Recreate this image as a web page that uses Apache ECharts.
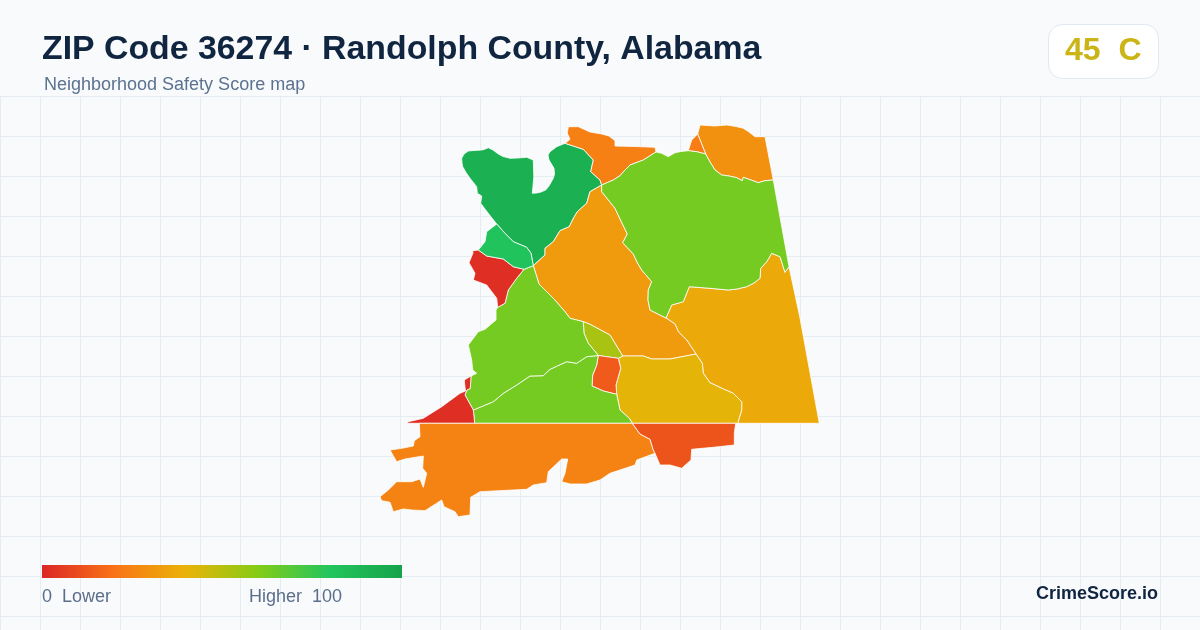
<!DOCTYPE html>
<html><head><meta charset="utf-8">
<style>html,body{margin:0;padding:0;background:#f8fafc}#c{width:1200px;height:630px}</style>
<script src="https://cdn.jsdelivr.net/npm/echarts@6/dist/echarts.min.js"></script>
</head><body><div id="c"></div>
<script>
// ---- chart text ----
const titleText = 'ZIP Code 36274 · Randolph County, Alabama';
const subtitleText = 'Neighborhood Safety Score map';
const badgeText = '45  C';
const brandText = 'CrimeScore.io';
const scaleLow = '0  Lower';
const scaleHigh = 'Higher  100';
const scaleColors = ['#dc2626', '#f97316', '#eab308', '#84cc16', '#22c55e', '#16a34a'];

// ---- scores of the map areas ----
const regionNames = ['North Hill','North Ridge','North East','North East Spur','East Lake','Central Lake','Mid Lake','Lake Creek','Bridge','Town Centre','South Lime','West Lime','West Point','North West','Creek','South Shore','South East'];
const regionScores = [92, 24, 29, 23, 37, 32.5, 41, 53, 13.5, 63, 63, 63, 2, 2, 81, 25, 12];

// ---- shared area borders, in map units ----
const darkOuter = [[565,143.3],[556.7,146.7],[550,151.7],[548,155],[549,160],[554,168.3],[554.5,174],[553.3,178.3],[549,186],[545.7,190],[541,192],[536.7,193],[532.3,193.3],[533,186],[533.8,176.7],[533.5,168],[533.3,160],[526.7,157.3],[518,158],[510,158.3],[503,156.5],[498.3,154],[493,150],[488.3,147.7],[484,149.5],[481.7,150],[474,150.5],[468.3,151],[464,154],[461.7,158.3],[462,163],[462.7,166.7],[466,172.5],[470,178.3],[476.7,186.7],[477.3,193.3],[481.7,196],[480.7,203.3],[488,213],[496.7,224]];
const darkLight = [[496.7,224],[505,233.3],[513.3,241.7],[520,244.5],[526.7,247.3],[531,253.3],[533.3,265.7]];
const darkCenter = [[533.3,265.7],[545,255],[545,248.3],[553.3,241.7],[560,230.7],[569.3,226.7],[573,219],[577.3,211.7],[586.7,203.3],[590,191.7],[601.7,185]];
const darkNorth = [[601.7,185],[600,180],[590.7,171.7],[593.3,160],[583.3,149.3],[565,143.3]];
const northOuter = [[565,143.3],[570,139.3],[567.3,133.3],[568.3,126.7],[578.3,126.7],[590,132],[601.7,134],[609,136],[615,140.7],[615,146],[635,146.5],[655,147.3],[656,152]];
const limeNorth = [[601.7,185],[613.3,180],[620,175.7],[625,170],[630,165],[643.3,160],[656,152]];
const limeTop = [[656,152],[661.7,153.3],[668.3,156.7],[675,152.7],[681,151.5],[688.3,150.7]];
const limeSpur = [[688.3,150.7],[696.7,151.7],[705.7,154]];
const limeNorthEast = [[705.7,154],[710,162],[715,170],[721.7,175],[729,176],[736.7,177.7],[742.3,180.7],[743.3,177.3],[751,180],[758.3,182.7],[765,180.7],[773.3,180]];
const limeEdge = [[773.3,180],[789,266.7]];
const limeEast = [[789,266.7],[785,272.3],[780,256.7],[771.7,253.3],[766.7,261.7],[760.7,268.3],[760,278.3],[754,283],[746.7,286.7],[737,289],[728.3,290],[710,288.3],[689.3,286.7],[683.3,301.7],[671.7,305],[666,318]];
const limeCenter = [[666,318],[650,310],[648,300],[648.3,290],[651.7,281.7],[641.7,270],[637,262],[633.3,254],[622.7,242.7],[627.3,234],[621,221],[615,208.3],[601.7,191.7],[601.7,185]];
const spurOuter = [[688.3,150.7],[691.7,140],[697.7,134]];
const spurDivide = [[697.7,134],[705.7,154]];
const northEastOuter = [[697.7,134],[700,125],[715,126],[726.7,125],[736,126.5],[743.3,128.3],[749,132],[755,136.7],[765,136.7],[773.3,180]];
const eastOuter = [[789,266.7],[800,318],[819.3,423.3],[737.7,423.3]];
const eastSouth = [[737.7,423.3],[741.7,410],[741.7,401.7],[733.3,393.3],[723.3,389],[710,382.7],[703.3,373.3],[702.3,363.3],[696,354]];
const eastCenter = [[666,318],[675,324],[678.3,331.7],[686.7,340],[696,354]];
const centerSouth = [[696,354],[670,359],[651.7,359],[643.3,356],[622.7,356]];
const oliveCenter = [[583.3,321.7],[590,324.3],[610,335],[615,343.3],[622.7,356]];
const oliveTop = [[622.7,356],[618.3,358.3],[598.3,355.5]];
const oliveLime = [[583.3,321.7],[584,333.3],[588.3,343.3],[598.3,355.5]];
const limeCenterWest = [[533.3,265.7],[535.7,273.3],[539,284],[553.3,298.3],[565,311.7],[570,318.3],[583.3,321.7]];
const squareLeft = [[598.3,355.5],[596.7,365],[592.7,375],[592,386],[603.3,391],[616.7,394.3]];
const squareRight = [[618.3,358.3],[620.7,368.3],[616,385],[616.7,394.3]];
const southLimeRight = [[616.7,394.3],[620,410],[629.3,418.3],[632.3,423.3]];
const limeDivide = [[598.3,355.5],[586.7,356.7],[576.7,363.3],[566.7,361.7],[550,369.3],[543.3,375.7],[530,376],[516.7,385],[503.3,393.3],[493.3,401.7],[473.3,410]];
const redLime = [[465,395],[473.3,410]];
const knobSide = [[465,395],[466.7,390.3],[470.3,388.3],[471,376]];
const limeWestOuter = [[471,376],[476.7,373.3],[472.7,370],[471.7,360],[468.3,345],[478.3,331.7],[485,329.3],[496,320],[496,310],[497.7,307.3]];
const redLimeNorth = [[524,269.3],[516.7,278.3],[508.3,290],[505,303.3],[497.7,307.3]];
const redLight = [[524,269.3],[513.3,266.7],[503.3,259],[486.7,256],[478.3,250]];
const lightOuter = [[478.3,250],[485,241.7],[486.7,231.7],[496.7,224]];
const redNorthOuter = [[478.3,250],[472.7,250.7],[473,253],[469,262.7],[475,273.3],[473.3,280],[486.7,285],[496.7,298.3],[497.7,307.3]];
const knobWest = [[471,376],[464.3,380],[465,387.3],[465.5,391],[460,393.3],[441.7,406.7],[423.3,418.3],[408.3,421.7],[407.3,423.3],[474.7,423.3],[473.3,410]];
const southOuter = [[419.3,423.3],[420,436.7],[414.3,440.7],[413.3,446],[401.7,448.3],[390,450],[396.7,461.7],[405,459],[423.3,456],[422.7,468.3],[426.7,473.3],[423.3,487.3],[420,479],[411.7,481.7],[396.7,481.7],[388.3,490],[380,496.7],[381.7,500.7],[390,502.3],[393.3,511.7],[403.3,509],[411.7,510],[425,510.7],[441.7,500],[444,506.7],[455,511.7],[458.3,516.7],[470,515],[470.7,497.3],[480,491.7],[526.7,489.3],[533.3,485],[546.7,482.7],[548.3,471.7],[561.7,459],[567.7,459],[565,473.3],[561.7,481.7],[570,484],[586.7,484],[600,480],[610,473.3],[635,465],[636.7,460],[655,453.3]];
const southDivide = [[632.3,423.3],[640,434],[650,439.3],[653.3,450],[655,453.3]];
const southEastOuter = [[655,453.3],[660,465],[670,465],[681.7,468.3],[691,460],[691.7,449.3],[713.3,447.3],[734.3,445],[734.3,433.3],[735.7,423.3],[632.3,423.3]];

const back = a => a.slice().reverse();
const ring = (...arcs) => { const r = [].concat(...arcs); r.push(r[0]); return r; };
const regionRings = [
  ring(darkOuter, darkLight, darkCenter, darkNorth),
  ring(northOuter, back(limeNorth), darkNorth),
  ring(northEastOuter, back(limeNorthEast), back(spurDivide)),
  ring(spurOuter, spurDivide, back(limeSpur)),
  ring(eastOuter, eastSouth, back(eastCenter), back(limeEast)),
  ring(back(limeCenter), eastCenter, centerSouth, back(oliveCenter), back(limeCenterWest), darkCenter),
  ring(oliveTop.slice(0, 2), squareRight, southLimeRight, [[737.7,423.3]], eastSouth, centerSouth),
  ring(oliveCenter, oliveTop, back(oliveLime)),
  ring(oliveTop.slice(1), squareLeft, back(squareRight)),
  ring(limeNorth, limeTop, limeSpur, limeNorthEast, limeEdge, limeEast, limeCenter),
  ring(limeDivide, [[474.7,423.3]], [[632.3,423.3]], back(southLimeRight), back(squareLeft)),
  ring(limeCenterWest, oliveLime, limeDivide, back(redLime), knobSide, limeWestOuter, back(redLimeNorth)),
  ring(knobSide, knobWest, back(redLime)),
  ring(redLight, redNorthOuter, back(redLimeNorth)),
  ring(darkLight, [[524,269.3]], redLight, lightOuter),
  ring(southOuter, back(southDivide)),
  ring(southDivide, southEastOuter)
];

const geoJson = {
  type: 'FeatureCollection',
  features: regionNames.map((name, i) => ({
    type: 'Feature',
    properties: { name },
    geometry: { type: 'Polygon', coordinates: [regionRings[i]] }
  }))
};
echarts.registerMap('zip36274', geoJson);

const chart = echarts.init(document.getElementById('c'));
const FONT = '"Liberation Sans", Arial, sans-serif';
const scaleGradient = new echarts.graphic.LinearGradient(0, 0, 1, 0,
  scaleColors.map((color, i) => ({ offset: i / (scaleColors.length - 1), color })));
chart.setOption({
  backgroundColor: '#f8fafc',
  animation: false,
  textStyle: { fontFamily: FONT },
  title: {
    left: 42, top: 33, padding: 0,
    text: titleText,
    textStyle: { fontFamily: FONT, fontSize: 33.85, fontWeight: 700, color: '#102540' }
  },
  grid: { left: 0, top: 96, width: 1200, height: 534, show: false },
  xAxis: { type: 'value', min: 0, max: 1200, interval: 40, show: true,
    axisLine: { show: false }, axisTick: { show: false }, axisLabel: { show: false },
    splitLine: { show: true, lineStyle: { color: '#e6edf2', width: 1 } } },
  yAxis: { type: 'value', inverse: true, min: 0, max: 534, interval: 40, show: true,
    axisLine: { show: false }, axisTick: { show: false }, axisLabel: { show: false },
    splitLine: { show: true, lineStyle: { color: '#e6edf2', width: 1 } } },
  visualMap: {
    type: 'continuous', min: 0, max: 100, show: false,
    inRange: { color: scaleColors }
  },
  series: [{
    type: 'map', map: 'zip36274', silent: true, z: 5,
    projection: { project: p => p, unproject: p => p },
    boundingCoords: [[0, 0], [1200, 630]],
    left: 0, top: 0, width: 1200, height: 630, roam: false,
    label: { show: false },
    itemStyle: { borderColor: '#ffffff', borderWidth: 0.8 },
    data: regionNames.map((name, i) => ({ name, value: regionScores[i] }))
  }],
  graphic: [
    { type: 'text', left: 44, top: 76, z: 10, style: { text: subtitleText, font: '18px ' + FONT, fill: '#5b7290' } },
    { type: 'rect', left: 1048, top: 24, z: 10, shape: { width: 110, height: 54, r: 14 }, style: { fill: '#ffffff', stroke: '#e2e8f0', lineWidth: 1 } },
    { type: 'text', left: 1065, top: 35, z: 11, style: { text: badgeText, font: '700 32px ' + FONT, fill: '#cbb516' } },
    { type: 'rect', left: 42, top: 565, z: 10, shape: { width: 360, height: 13 }, style: { fill: scaleGradient } },
    { type: 'text', left: 42, top: 588, z: 10, style: { text: scaleLow, font: '18px ' + FONT, fill: '#5b6f8a' } },
    { type: 'text', left: 249, top: 588, z: 10, style: { text: scaleHigh, font: '18px ' + FONT, fill: '#5b6f8a' } },
    { type: 'text', right: 42, top: 585, z: 10, style: { text: brandText, font: '700 18px ' + FONT, fill: '#102540' } }
  ]
});
</script></body></html>
